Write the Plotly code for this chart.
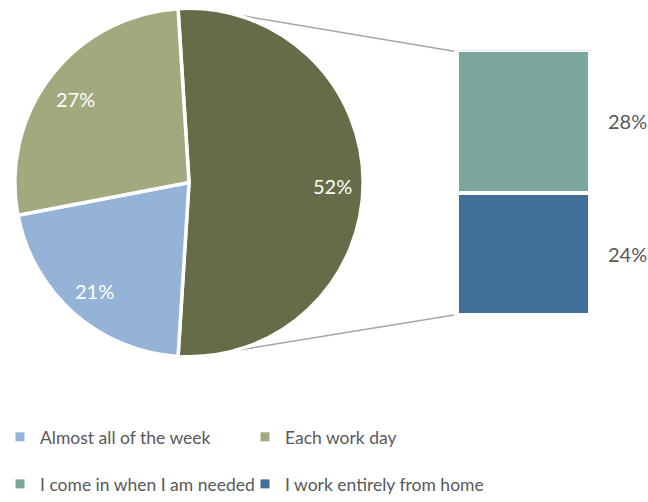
import math
import plotly.graph_objects as go

# Survey shares (percent of all respondents)
pie_labels = ["Almost all of the week", "Each work day"]
pie_values = [21, 27]
bar_labels = ["I work entirely from home", "I come in when I am needed"]
bar_values = [24, 28]
legend_row1 = ["Almost all of the week", "Each work day"]
legend_row2 = ["I come in when I am needed", "I work entirely from home"]

colors = {
    "Almost all of the week": "#95B3D7",
    "Each work day": "#A3A97E",
    "Other": "#676C48",
    "I come in when I am needed": "#7BA69B",
    "I work entirely from home": "#406F97",
}

W, H = 648, 502
TEXT = "#595959"
FONT = "Lato"

# pie geometry (pixels)
cx, cy, r = 189, 185.5, 177
# bar-of-pie column geometry (pixels, outer edge incl. white border)
bx0, bx1, by_top, by_bot = 457, 590, 51, 320

other = sum(bar_values)
total = other + sum(pie_values)
slice_labels = ["Other"] + pie_labels
slice_values = [other] + pie_values
# centre the split slice on 3 o'clock
rotation = 90 - other / total * 180

fig = go.Figure()

fig.add_trace(go.Pie(
    labels=slice_labels,
    values=slice_values,
    sort=False,
    direction="clockwise",
    rotation=rotation,
    marker=dict(colors=[colors[l] for l in slice_labels],
                line=dict(color="white", width=3.5)),
    textinfo="none",
    domain=dict(x=[(cx - r) / W, (cx + r) / W],
                y=[1 - (cy + r) / H, 1 - (cy - r) / H]),
    showlegend=False,
    hoverinfo="label+percent",
))

# percentage labels placed along each slice's bisector
start = rotation
for v in slice_values:
    mid = math.radians(start + v / total * 180)
    px = cx + 0.81 * r * math.sin(mid)
    py = cy - 0.81 * r * math.cos(mid)
    fig.add_annotation(
        x=px / W, y=1 - py / H, xref="paper", yref="paper",
        xanchor="center", yanchor="middle",
        text=f"{round(v / total * 100)}%", showarrow=False, yshift=-3,
        font=dict(family=FONT, size=20, color="white"),
    )
    start += v / total * 360

# stacked column for the split slice
base = 0
for lab, v in zip(bar_labels, bar_values):
    fig.add_trace(go.Bar(
        x=[0], y=[v], width=1,
        marker=dict(color=colors[lab], line=dict(color="white", width=4)),
        xaxis="x2", yaxis="y2", showlegend=False, name=lab,
    ))
    fig.add_annotation(
        x=0.5, y=base + v / 2, xref="x2", yref="y2",
        xanchor="left", yanchor="middle",
        text=f"{v}%", showarrow=False, xshift=16,
        font=dict(family=FONT, size=20, color=TEXT),
    )
    base += v

# legend entries
for lab in legend_row1:
    fig.add_trace(go.Scatter(
        x=[None], y=[None], mode="markers", name=lab, legend="legend",
        marker=dict(symbol="square", size=9, color=colors[lab]),
        xaxis="x2", yaxis="y2",
    ))
for lab in legend_row2:
    fig.add_trace(go.Scatter(
        x=[None], y=[None], mode="markers", name=lab, legend="legend2",
        marker=dict(symbol="square", size=9, color=colors[lab]),
        xaxis="x2", yaxis="y2",
    ))

# connector lines from the pie to the column corners
theta = math.radians(15.5)
for sgn, by in ((-1, by_top + 1), (1, by_bot)):
    px = cx + r * math.sin(theta)
    py = cy + sgn * r * math.cos(theta)
    fig.add_shape(
        type="line", xref="paper", yref="paper", layer="below",
        x0=px / W, y0=1 - py / H, x1=(bx0 - 3) / W, y1=1 - by / H,
        line=dict(color="#A6A6A6", width=1.5),
    )

legend_common = dict(
    orientation="h", xanchor="left", yanchor="middle", traceorder="normal",
    entrywidth=200, entrywidthmode="pixels",
    font=dict(family=FONT, size=17.5, color=TEXT),
    bgcolor="rgba(0,0,0,0)", itemclick=False, itemdoubleclick=False,
)

fig.update_layout(
    width=W, height=H,
    margin=dict(l=0, r=0, t=0, b=0),
    paper_bgcolor="white", plot_bgcolor="white",
    barmode="stack", bargap=0,
    xaxis2=dict(domain=[bx0 / W, bx1 / W], range=[-0.5, 0.5],
                visible=False, fixedrange=True, anchor="y2"),
    yaxis2=dict(domain=[1 - by_bot / H, 1 - by_top / H], range=[0, other],
                visible=False, fixedrange=True, anchor="x2"),
    legend=dict(x=0, y=1 - 444 / H, **legend_common),
    legend2=dict(x=0, y=1 - 492 / H, **legend_common),
    font=dict(family=FONT, color=TEXT),
)

fig.write_html("out.html")
